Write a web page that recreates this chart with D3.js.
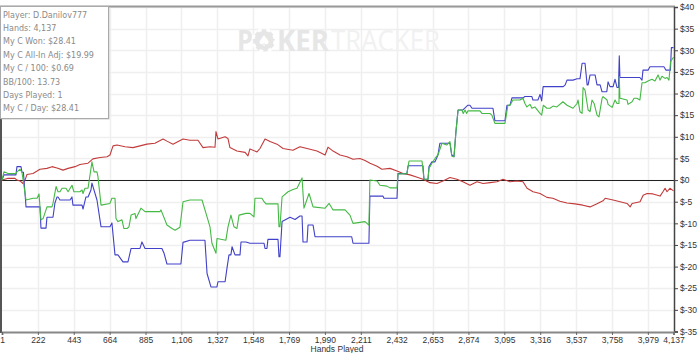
<!DOCTYPE html>
<html>
<head>
<meta charset="utf-8">
<script src="https://cdn.jsdelivr.net/npm/d3@7"></script>
<style>
  body { margin: 0; background: #fff; }
  svg { display: block; }
</style>
</head>
<body>
<svg id="chart"></svg>
<script>
const width = 700, height = 353;

// tick labels
const xTicks = [1, 222, 443, 664, 885, 1106, 1327, 1548, 1769, 1990, 2211, 2432, 2653, 2874, 3095, 3316, 3537, 3758, 3979, 4137];
const yTicks = [-35, -30, -25, -20, -15, -10, -5, 0, 5, 10, 15, 20, 25, 30, 35, 40];

const statLines = [
    "Player: D.Danilov777",
    "Hands: 4,137",
    "My C Won: $28.41",
    "My C All-In Adj: $19.99",
    "My C / 100: $0.69",
    "BB/100: 13.73",
    "Days Played: 1",
    "My C / Day: $28.41"
];

// [hand, dollars]
const blueSeries = [[1,0],[13,1.2],[87,1.2],[93,3.1],[118,3.1],[124,1.8],[133,1.8],[149,-6.2],[235,-6.2],[241,-11.1],[272,-11.1],[278,-8.6],[315,-8.6],[327,-5.3],[340,-3.9],[346,-3.9],[358,-4.6],[420,-4.6],[432,-3.9],[438,-5.8],[494,-5.8],[500,-6.7],[518,-3.9],[531,-3.9],[549,-2.3],[555,-0.7],[586,-4.6],[611,-10.8],[666,-10.8],[678,-9.9],[697,-17.3],[715,-17.3],[746,-18.9],[777,-18.9],[796,-15.8],[851,-15.8],[863,-14.3],[882,-15.8],[986,-15.8],[999,-16.9],[1017,-19.4],[1103,-19.4],[1116,-14.4],[1159,-13.9],[1251,-13.9],[1264,-21.6],[1288,-24.7],[1325,-24.7],[1331,-23.5],[1375,-23.5],[1387,-20.3],[1399,-17.3],[1411,-17.3],[1418,-15.4],[1436,-17.3],[1467,-17.3],[1473,-14.3],[1504,-14.3],[1528,-14.6],[1615,-14.6],[1621,-15.8],[1633,-15.8],[1639,-13.7],[1701,-13.7],[1707,-17.7],[1713,-17.7],[1726,-9.6],[1775,-8.6],[1806,-9.1],[1836,-8.3],[1849,-8.3],[1855,-14.3],[1880,-14.3],[1886,-10.4],[1917,-10.4],[1929,-13.1],[2155,-13.1],[2163,-14.6],[2261,-14.6],[2267,-3.7],[2347,-3.7],[2354,-4.2],[2434,-4.2],[2440,1.5],[2495,1.5],[2502,3.3],[2594,3.3],[2600,0.2],[2625,0.2],[2631,3.1],[2649,4.2],[2668,4.2],[2686,5.8],[2698,8.5],[2760,8.5],[2771,5.8],[2785,5.4],[2797,11.2],[2810,16.2],[2840,16.2],[2871,17.3],[2883,17.3],[2896,16.6],[3025,16.6],[3037,13.7],[3099,13.7],[3111,17.3],[3130,17.3],[3142,19.0],[3210,19.0],[3222,19.3],[3265,19.3],[3271,18.5],[3302,18.5],[3315,19.8],[3325,18.3],[3334,21.6],[3458,21.6],[3470,22.0],[3481,23.1],[3518,23.1],[3543,23.4],[3561,23.4],[3574,27.0],[3592,27.0],[3605,22.0],[3611,22.0],[3623,24.3],[3654,24.3],[3666,22.0],[3685,22.0],[3697,20.4],[3726,20.4],[3734,22.7],[3746,21.6],[3765,21.6],[3777,23.3],[3789,21.4],[3798,21.4],[3803,28.7],[3807,23.7],[3930,23.7],[3943,23.1],[3949,25.4],[3980,25.4],[3992,26.2],[4078,26.2],[4091,25.4],[4118,25.4],[4124,30.6],[4137,30.6]];

const greenSeries = [[1,0],[13,1.9],[38,1.5],[87,1.5],[93,1.9],[112,2.5],[124,1.8],[149,-4.6],[192,-4.2],[217,-4.2],[229,-3.2],[241,-9.2],[254,-8.9],[278,-6.2],[309,-6.2],[315,-5.4],[334,-1.5],[346,-2.7],[358,-2.7],[371,-1.9],[395,-1.9],[408,-2.7],[432,-1.2],[444,-2.7],[481,-2.7],[494,-2.3],[500,-3.1],[512,-1.9],[531,-1.9],[555,4.2],[568,1.9],[586,1.9],[592,0.8],[611,-5.8],[666,-5.4],[678,-4.2],[697,-4.2],[703,-8.9],[715,-9.6],[740,-9.2],[752,-11.2],[771,-11.2],[783,-10.8],[796,-8.1],[820,-7.7],[826,-8.9],[857,-6.5],[882,-7.3],[974,-7.3],[980,-6.9],[1017,-10.4],[1048,-11.2],[1067,-11.6],[1097,-10.9],[1116,-5.0],[1159,-4.6],[1233,-4.6],[1264,-8.5],[1282,-10.8],[1294,-14.6],[1319,-16.9],[1325,-13.5],[1380,-13.9],[1393,-10.8],[1411,-8.1],[1430,-10.8],[1448,-11.2],[1461,-8.1],[1504,-7.7],[1528,-7.7],[1553,-8.5],[1559,-4.2],[1602,-4.2],[1615,-5.0],[1627,-5.5],[1701,-5.5],[1707,-10.8],[1713,-10.8],[1726,-3.9],[1763,-2.7],[1793,-2.2],[1818,-1.9],[1849,0.5],[1861,-6.5],[1892,-3.1],[1917,-6.2],[1991,-6.5],[2016,-5.4],[2040,-6.9],[2114,-6.9],[2144,-8.1],[2163,-10.0],[2237,-9.6],[2261,-10.4],[2267,0],[2311,-0.2],[2329,-1.2],[2372,-1.4],[2391,-1.8],[2434,-1.8],[2440,1.4],[2495,1.5],[2508,4.4],[2588,4.4],[2600,0.2],[2625,0.2],[2631,2.7],[2649,3.9],[2668,5.0],[2686,5.8],[2711,8.5],[2740,8.1],[2760,8.9],[2772,5.5],[2785,5.4],[2797,11.2],[2810,16.2],[2834,16.2],[2842,15.4],[2853,16.2],[2863,15.4],[2871,16.0],[2945,16.0],[2957,15.4],[3006,15.4],[3018,15.0],[3037,13.1],[3099,13.1],[3117,17.3],[3130,17.3],[3148,18.5],[3191,18.5],[3210,18.9],[3222,17.7],[3234,16.9],[3253,17.5],[3265,16.6],[3283,16.9],[3315,15.4],[3325,15.0],[3335,17.3],[3357,16.6],[3376,16.6],[3395,17.1],[3419,16.9],[3456,18.1],[3481,17.3],[3518,16.6],[3543,17.7],[3549,18.5],[3561,15.8],[3574,15.4],[3580,21.4],[3592,20.8],[3611,16.2],[3623,15.8],[3635,18.5],[3648,17.7],[3666,15.0],[3678,14.6],[3697,18.9],[3703,19.3],[3728,18.5],[3734,17.5],[3759,16.8],[3777,18.5],[3789,17.7],[3801,17.7],[3803,23.9],[3807,18.9],[3851,18.5],[3857,17.5],[3882,18.1],[3894,18.9],[3912,18.9],[3930,18.5],[3943,22.5],[3961,22.5],[3980,22.9],[4004,23.3],[4023,22.9],[4042,24.3],[4054,23.1],[4066,24.0],[4085,23.5],[4097,23.7],[4109,23.1],[4119,27.4],[4137,28.4]];

const redSeries = [[1,0],[19,0.2],[38,0.4],[81,0.4],[93,0],[112,-0.2],[130,-0.8],[143,0],[155,1.3],[192,1.5],[235,2.5],[278,2.7],[309,3.1],[340,2.8],[377,2.3],[408,2.7],[451,3.1],[481,3.6],[531,3.9],[561,4.9],[605,5.2],[648,5.4],[666,5.8],[685,7.9],[709,8.1],[759,7.7],[808,7.5],[851,7.9],[894,8.3],[943,8.5],[993,9.5],[1017,9.0],[1054,8.3],[1116,9.5],[1159,9.2],[1208,9.2],[1239,7.5],[1282,7.7],[1313,7.6],[1319,11.2],[1331,9.5],[1375,10.0],[1393,9.6],[1405,7.5],[1448,6.7],[1498,6.4],[1516,5.6],[1528,7.2],[1572,6.5],[1590,7.3],[1621,9.5],[1652,8.9],[1695,8.3],[1732,7.3],[1793,6.9],[1836,7.7],[1880,7.3],[1941,6.7],[1991,5.8],[2009,7.6],[2040,6.7],[2083,5.8],[2126,5.4],[2163,4.8],[2206,5.0],[2237,4.5],[2268,3.9],[2311,3.2],[2341,2.5],[2391,2.7],[2434,2.1],[2471,1.5],[2514,1.2],[2563,0.6],[2594,0.2],[2637,-0.6],[2680,-0.8],[2717,-0.2],[2760,0.6],[2803,0.2],[2840,-0.4],[2883,-1.2],[2927,-0.4],[2964,-0.8],[3007,-0.6],[3050,-0.4],[3087,0.2],[3130,-0.4],[3173,-0.2],[3210,-0.4],[3235,-1.9],[3272,-2.7],[3315,-3.1],[3357,-4.0],[3394,-4.2],[3437,-4.9],[3481,-5.3],[3530,-5.5],[3579,-5.8],[3623,-6.2],[3666,-5.5],[3703,-4.8],[3716,-4.2],[3765,-4.6],[3808,-5.0],[3851,-5.4],[3870,-6.2],[3882,-5.4],[3931,-5.0],[3950,-3.5],[3974,-3.1],[4011,-3.2],[4054,-3.7],[4072,-2.7],[4085,-1.9],[4097,-2.7],[4115,-1.9],[4137,-2.5]];

const svg = d3.select("#chart")
    .attr("width", width)
    .attr("height", height);

const x = d3.scaleLinear().domain([1, 4137]).range([2, 673.5]);
const y = d3.scaleLinear().domain([-35, 40]).range([331.5, 7]);

const tickFont = "'Liberation Sans', Arial, sans-serif";

//grid lines
svg.append("g").selectAll("line.vg")
    .data(xTicks.slice(1, -1))
    .join("line")
    .attr("x1", d => Math.round(x(d)) + 0.5).attr("x2", d => Math.round(x(d)) + 0.5)
    .attr("y1", 7).attr("y2", 332)
    .attr("stroke", "#efefef").attr("stroke-width", 1.5);

svg.append("g").selectAll("line.hg")
    .data(yTicks)
    .join("line")
    .attr("x1", 2).attr("x2", 674)
    .attr("y1", d => Math.round(y(d)) + 0.5).attr("y2", d => Math.round(y(d)) + 0.5)
    .attr("stroke", "#efefef").attr("stroke-width", 1.5);

//watermark
const wm = svg.append("g");
wm.append("text").attr("x", 237).attr("y", 51)
    .attr("font-family", "'Open Sans', sans-serif").attr("font-weight", "bold")
    .attr("font-size", 29).attr("fill", "#e6e6e6")
    .attr("textLength", 16).attr("lengthAdjust", "spacingAndGlyphs")
    .text("P");
wm.append("circle").attr("cx", 264).attr("cy", 40.5).attr("r", 11)
    .attr("fill", "#e6e6e6");
wm.append("circle").attr("cx", 264).attr("cy", 40.5).attr("r", 11)
    .attr("fill", "none").attr("stroke", "#fff").attr("stroke-width", 3)
    .attr("stroke-dasharray", "4 5");
wm.append("text").attr("x", 264).attr("y", 46).attr("text-anchor", "middle")
    .attr("font-family", "'DejaVu Sans', sans-serif").attr("font-size", 15)
    .attr("fill", "#fff").text("\u2660");
wm.append("text").attr("x", 277).attr("y", 51)
    .attr("font-family", "'Open Sans', sans-serif").attr("font-weight", "bold")
    .attr("font-size", 29).attr("fill", "#e6e6e6")
    .attr("textLength", 52).attr("lengthAdjust", "spacingAndGlyphs")
    .text("KER");
wm.append("text").attr("x", 331).attr("y", 51)
    .attr("font-family", "'Open Sans', sans-serif")
    .attr("font-size", 29).attr("fill", "#f1f1f1")
    .attr("textLength", 109).attr("lengthAdjust", "spacingAndGlyphs")
    .text("TRACKER");

//frame lines
svg.append("line").attr("x1", 0).attr("x2", 675).attr("y1", 6.5).attr("y2", 6.5)
    .attr("stroke", "#999").attr("stroke-width", 2);
svg.append("line").attr("x1", 1).attr("x2", 1).attr("y1", 6).attr("y2", 333)
    .attr("stroke", "#555").attr("stroke-width", 2);

//zero line
svg.append("line").attr("x1", 2).attr("x2", 674)
    .attr("y1", Math.round(y(0)) + 0.5).attr("y2", Math.round(y(0)) + 0.5)
    .attr("stroke", "#222").attr("stroke-width", 1);

//series
const line = d3.line().x(d => x(d[0])).y(d => y(d[1]));

const series = [
    { data: redSeries, color: "#c23b3b" },
    { data: blueSeries, color: "#4040c8" },
    { data: greenSeries, color: "#44b944" }
];

svg.append("g").selectAll("path")
    .data(series)
    .join("path")
    .attr("d", d => line(d.data))
    .attr("fill", "none")
    .attr("stroke", d => d.color)
    .attr("stroke-width", 1.1)
    .attr("stroke-linejoin", "round");

//right axis
const yAxis = svg.append("g").attr("transform", "translate(674,0)")
    .call(d3.axisRight(y).tickValues(yTicks).tickFormat(d => "$" + d).tickSize(4).tickPadding(2));
yAxis.select(".domain").attr("stroke", "#444").attr("stroke-width", 1.5);
yAxis.selectAll(".tick line").attr("stroke", "#444");
yAxis.selectAll("text").attr("font-family", tickFont).attr("font-size", 8.5).attr("fill", "#333");

//bottom axis
const xAxis = svg.append("g").attr("transform", "translate(0,332)")
    .call(d3.axisBottom(x).tickValues(xTicks).tickFormat(d3.format(",")).tickSize(3).tickPadding(2));
xAxis.select(".domain").attr("stroke", "#888").attr("stroke-width", 2);
xAxis.selectAll(".tick line").attr("stroke", "#666");
xAxis.selectAll("text").attr("font-family", tickFont).attr("font-size", 8.5).attr("fill", "#333");

svg.append("text").attr("x", 337).attr("y", 352)
    .attr("text-anchor", "middle")
    .attr("font-family", tickFont).attr("font-size", 8.5).attr("fill", "#333")
    .text("Hands Played");

//stats box
const box = svg.append("g");
box.append("rect").attr("x", 1.5).attr("y", 7.5).attr("width", 108).attr("height", 112)
    .attr("fill", "#ccc");
box.append("rect").attr("x", 0.5).attr("y", 6.5).attr("width", 108).attr("height", 112)
    .attr("fill", "#fff").attr("stroke", "#aaa");
box.selectAll("text")
    .data(statLines)
    .join("text")
    .attr("x", 3)
    .attr("y", (d, i) => 17.5 + i * 13.4)
    .attr("font-family", "'DejaVu Sans', sans-serif")
    .attr("font-size", 8)
    .attr("fill", "#8a8a8a")
    .text(d => d);
</script>
</body>
</html>
